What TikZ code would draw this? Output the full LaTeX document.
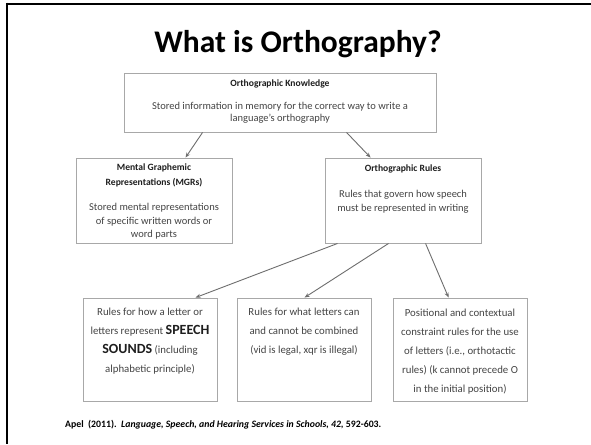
\documentclass[tikz,border=0pt]{standalone}
\usepackage{fontspec}
\setmainfont{Carlito}
\usetikzlibrary{calc,arrows.meta}
\definecolor{boxline}{HTML}{A8A8A8}
\definecolor{arrowgray}{HTML}{6E6E6E}
\definecolor{bodytext}{HTML}{444444}
\definecolor{headtext}{HTML}{1E1E1E}
\begin{document}
\begin{tikzpicture}[x=1pt,y=-1pt,
  box/.style={draw=boxline,line width=0.9pt,rectangle,inner sep=0pt},
  arr/.style={draw=arrowgray,line width=0.9pt,-{Stealth[length=5pt,width=4pt]}},
  head/.style={text=headtext,align=center,inner sep=0pt,font=\bfseries\fontsize{9.6}{15}\selectfont},
  body/.style={text=bodytext,align=center,inner sep=0pt,font=\fontsize{10.5}{12.5}\selectfont},
  rule/.style={text=bodytext,align=center,inner sep=0pt,font=\fontsize{10.8}{19}\selectfont}]
\useasboundingbox (0,0) rectangle (591,444);
\fill[white] (0,0) rectangle (591,444);

% slide frame: top and left edges only
\draw[line width=2.6pt] (5.8,4) -- (591,4);
\draw[line width=2.6pt] (7,2.7) -- (7,444);

% title
\node[font=\bfseries\fontsize{31.5}{34}\selectfont,inner sep=0pt] (title) at (298,44) {What is Orthography?};

% boxes
\node[box,minimum width=312,minimum height=59] (know)  at (280,102.5) {};
\node[box,minimum width=156,minimum height=85] (mgr)   at (154,200.5) {};
\node[box,minimum width=156,minimum height=85] (rules) at (403,200.5) {};
\node[box,minimum width=134,minimum height=103] (snd)  at (150,349.5) {};
\node[box,minimum width=134,minimum height=103] (comb) at (304,349.5) {};
\node[box,minimum width=134,minimum height=103] (pos)  at (460,349.5) {};

% box texts
\node[head] (knowhead) at (280,84) {Orthographic Knowledge};
\node[body] (knowbody) at (280,113) {Stored information in memory for the correct way to write a\\language’s orthography};

\node[head] (mgrhead) at (154,175.5) {Mental Graphemic\\Representations (MGRs)};
\node[body,font=\fontsize{10.5}{13.5}\selectfont] (mgrbody) at (154,221.5) {Stored mental representations\\of specific written words or\\word parts};

\node[head] (ruleshead) at (403,169) {Orthographic Rules};
\node[body,font=\fontsize{10.5}{14}\selectfont] (rulesbody) at (403,202) {Rules that govern how speech\\must be represented in writing};

\node[rule] (sndtext) at (150,341.5) {Rules for how a letter or\\letters represent {\color{headtext}\bfseries\fontsize{14}{19}\selectfont SPEECH}\\{\color{headtext}\bfseries\fontsize{14}{19}\selectfont SOUNDS} (including\\alphabetic principle)};
\node[rule] (combtext) at (304,332) {Rules for what letters can\\and cannot be combined\\(vid is legal, xqr is illegal)};
\node[rule] (postext) at (460,351.5) {Positional and contextual\\constraint rules for the use\\of letters (i.e., orthotactic\\rules) (k cannot precede O\\in the initial position)};

% connectors
\draw[arr] ($(know.south west)+(79,0)$)  -- ($(mgr.north west)+(110,0)$);
\draw[arr] ($(know.south west)+(223,0)$) -- ($(rules.north west)+(46,0)$);
\draw[arr] ($(rules.south west)+(13,0)$)  -- ($(snd.north west)+(113,0)$);
\draw[arr] ($(rules.south west)+(64,0)$)  -- ($(comb.north west)+(68,0)$);
\draw[arr] ($(rules.south west)+(101,0)$) -- ($(pos.north west)+(56,0)$);

% reference line
\node[anchor=west,inner sep=0pt,font=\bfseries\fontsize{9.8}{11}\selectfont] (cite) at (65,425)
  {Apel\ \ (2011).\ \ \textit{Language, Speech, and Hearing Services in Schools, 42,} 592-603.};
\end{tikzpicture}
\end{document}
